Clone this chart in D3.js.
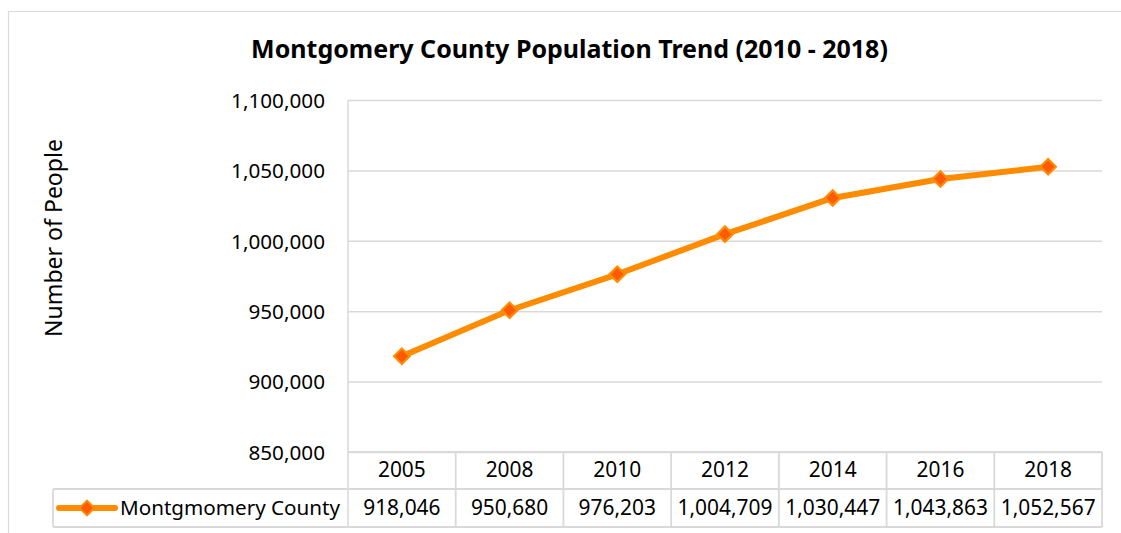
<!DOCTYPE html>
<html><head><meta charset="utf-8">
<script src="https://cdn.jsdelivr.net/npm/d3@7"></script>
<style>body{margin:0;background:#fff;} svg{display:block;font-family:"Noto Sans",sans-serif;}</style>
</head><body>
<svg id="c" width="1121" height="533"></svg>
<script>
const years = ["2005","2008","2010","2012","2014","2016","2018"];
const population = [918046, 950680, 976203, 1004709, 1030447, 1043863, 1052567];
const yTicks = [850000, 900000, 950000, 1000000, 1050000, 1100000];
const seriesName = "Montgmomery County";
const titleText = "Montgomery County Population Trend (2010 - 2018)";
const yAxisTitle = "Number of People";

const svg = d3.select("#c");
const W = 1121, H = 533;
const L = 348, R = 1102, T = 100, B = 452;
const row1 = 489, row2 = 527, legL = 53;
const grid = "#d9d9d9", orange = "#ff8c00", markerFill = "#ff5a00";
const fmt = d3.format(",");

function fit(sel, w) {
  const n = sel.node();
  const fs = parseFloat(sel.attr("font-size"));
  const cur = n.getComputedTextLength();
  sel.attr("font-size", (fs * w / cur).toFixed(2));
}

// chart border (top and left visible)
svg.append("line").attr("x1", 8).attr("x2", W).attr("y1", 11.5).attr("y2", 11.5).attr("stroke", grid).attr("stroke-width", 1.2);
svg.append("line").attr("x1", 8.5).attr("x2", 8.5).attr("y1", 11).attr("y2", H).attr("stroke", grid).attr("stroke-width", 1.2);

const x = d3.scaleBand().domain(years).range([L, R]);
const y = d3.scaleLinear().domain([850000, 1100000]).range([B, T]);

// gridlines via axis
const yAxis = d3.axisLeft(y).tickValues(yTicks).tickFormat(fmt).tickSize(-(R - L)).tickPadding(23);
const ga = svg.append("g").attr("transform", `translate(${L},0)`).call(yAxis);
ga.select(".domain").remove();
ga.selectAll(".tick line").attr("stroke", grid).attr("stroke-width", 1.5);
const tickTexts = ga.selectAll(".tick text").attr("fill", "#000").attr("font-size", 18).attr("font-family", "Noto Sans").attr("dy", "0.35em");
const tw = tickTexts.nodes()[5].getComputedTextLength();
tickTexts.attr("font-size", (18 * 94 / tw).toFixed(2));

// vertical left line of plot/table
svg.append("line").attr("x1", L).attr("x2", L).attr("y1", T).attr("y2", row2).attr("stroke", grid).attr("stroke-width", 1.5);

// table
const tg = svg.append("g");
[[L, B], [legL, row1], [legL, row2]].forEach(([x0, yy]) => {
  tg.append("line").attr("x1", x0).attr("x2", R).attr("y1", yy).attr("y2", yy).attr("stroke", grid).attr("stroke-width", 1.8);
});
years.forEach(yr => {
  tg.append("line").attr("x1", x(yr) + x.bandwidth()).attr("x2", x(yr) + x.bandwidth()).attr("y1", B).attr("y2", row2).attr("stroke", grid).attr("stroke-width", 1.8);
});
tg.append("line").attr("x1", legL).attr("x2", legL).attr("y1", row1).attr("y2", row2).attr("stroke", grid).attr("stroke-width", 1.8);

const hdr = tg.selectAll("text.h").data(years).enter().append("text")
  .attr("x", d => x(d) + x.bandwidth() / 2).attr("y", 477).attr("text-anchor", "middle")
  .attr("font-size", 18).text(d => d);
const vals = tg.selectAll("text.v").data(population).enter().append("text")
  .attr("x", (d, i) => x(years[i]) + x.bandwidth() / 2).attr("y", 515).attr("text-anchor", "middle")
  .attr("font-size", 18).text(d => fmt(d));
const refW = vals.nodes()[4].getComputedTextLength();
const fsT = 18 * 95 / refW;
hdr.attr("font-size", fsT);
vals.attr("font-size", fsT);

// legend key in table
const legY = 508;
tg.append("line").attr("x1", 59).attr("x2", 115).attr("y1", legY).attr("y2", legY).attr("stroke", orange).attr("stroke-width", 6).attr("stroke-linecap", "round");
tg.append("path").attr("d", d3.symbol(d3.symbolSquare, 110)()).attr("transform", `translate(87,${legY}) rotate(45)`)
  .attr("fill", markerFill).attr("stroke", orange).attr("stroke-width", 2);
const lt = tg.append("text").attr("x", 120).attr("y", 515).attr("font-size", 18).text(seriesName);
fit(lt, 220);

// line
const line = d3.line().x((d, i) => x(years[i]) + x.bandwidth() / 2).y(d => y(d));
svg.append("path").datum(population).attr("d", line).attr("fill", "none").attr("stroke", orange)
  .attr("stroke-width", 6).attr("stroke-linejoin", "round").attr("stroke-linecap", "round");
svg.selectAll("path.m").data(population).enter().append("path")
  .attr("d", d3.symbol(d3.symbolSquare, 120)())
  .attr("transform", (d, i) => `translate(${x(years[i]) + x.bandwidth() / 2},${y(d)}) rotate(45)`)
  .attr("fill", markerFill).attr("stroke", orange).attr("stroke-width", 2.2);

// title
const tt = svg.append("text").attr("x", 569.5).attr("y", 58).attr("text-anchor", "middle")
  .attr("font-weight", "bold").attr("font-size", 20).text(titleText);
fit(tt, 637);

// y axis title
const at = svg.append("text").attr("transform", "translate(62,238) rotate(-90)").attr("text-anchor", "middle")
  .attr("font-size", 18).text(yAxisTitle);
fit(at, 198);
</script>
</body></html>
